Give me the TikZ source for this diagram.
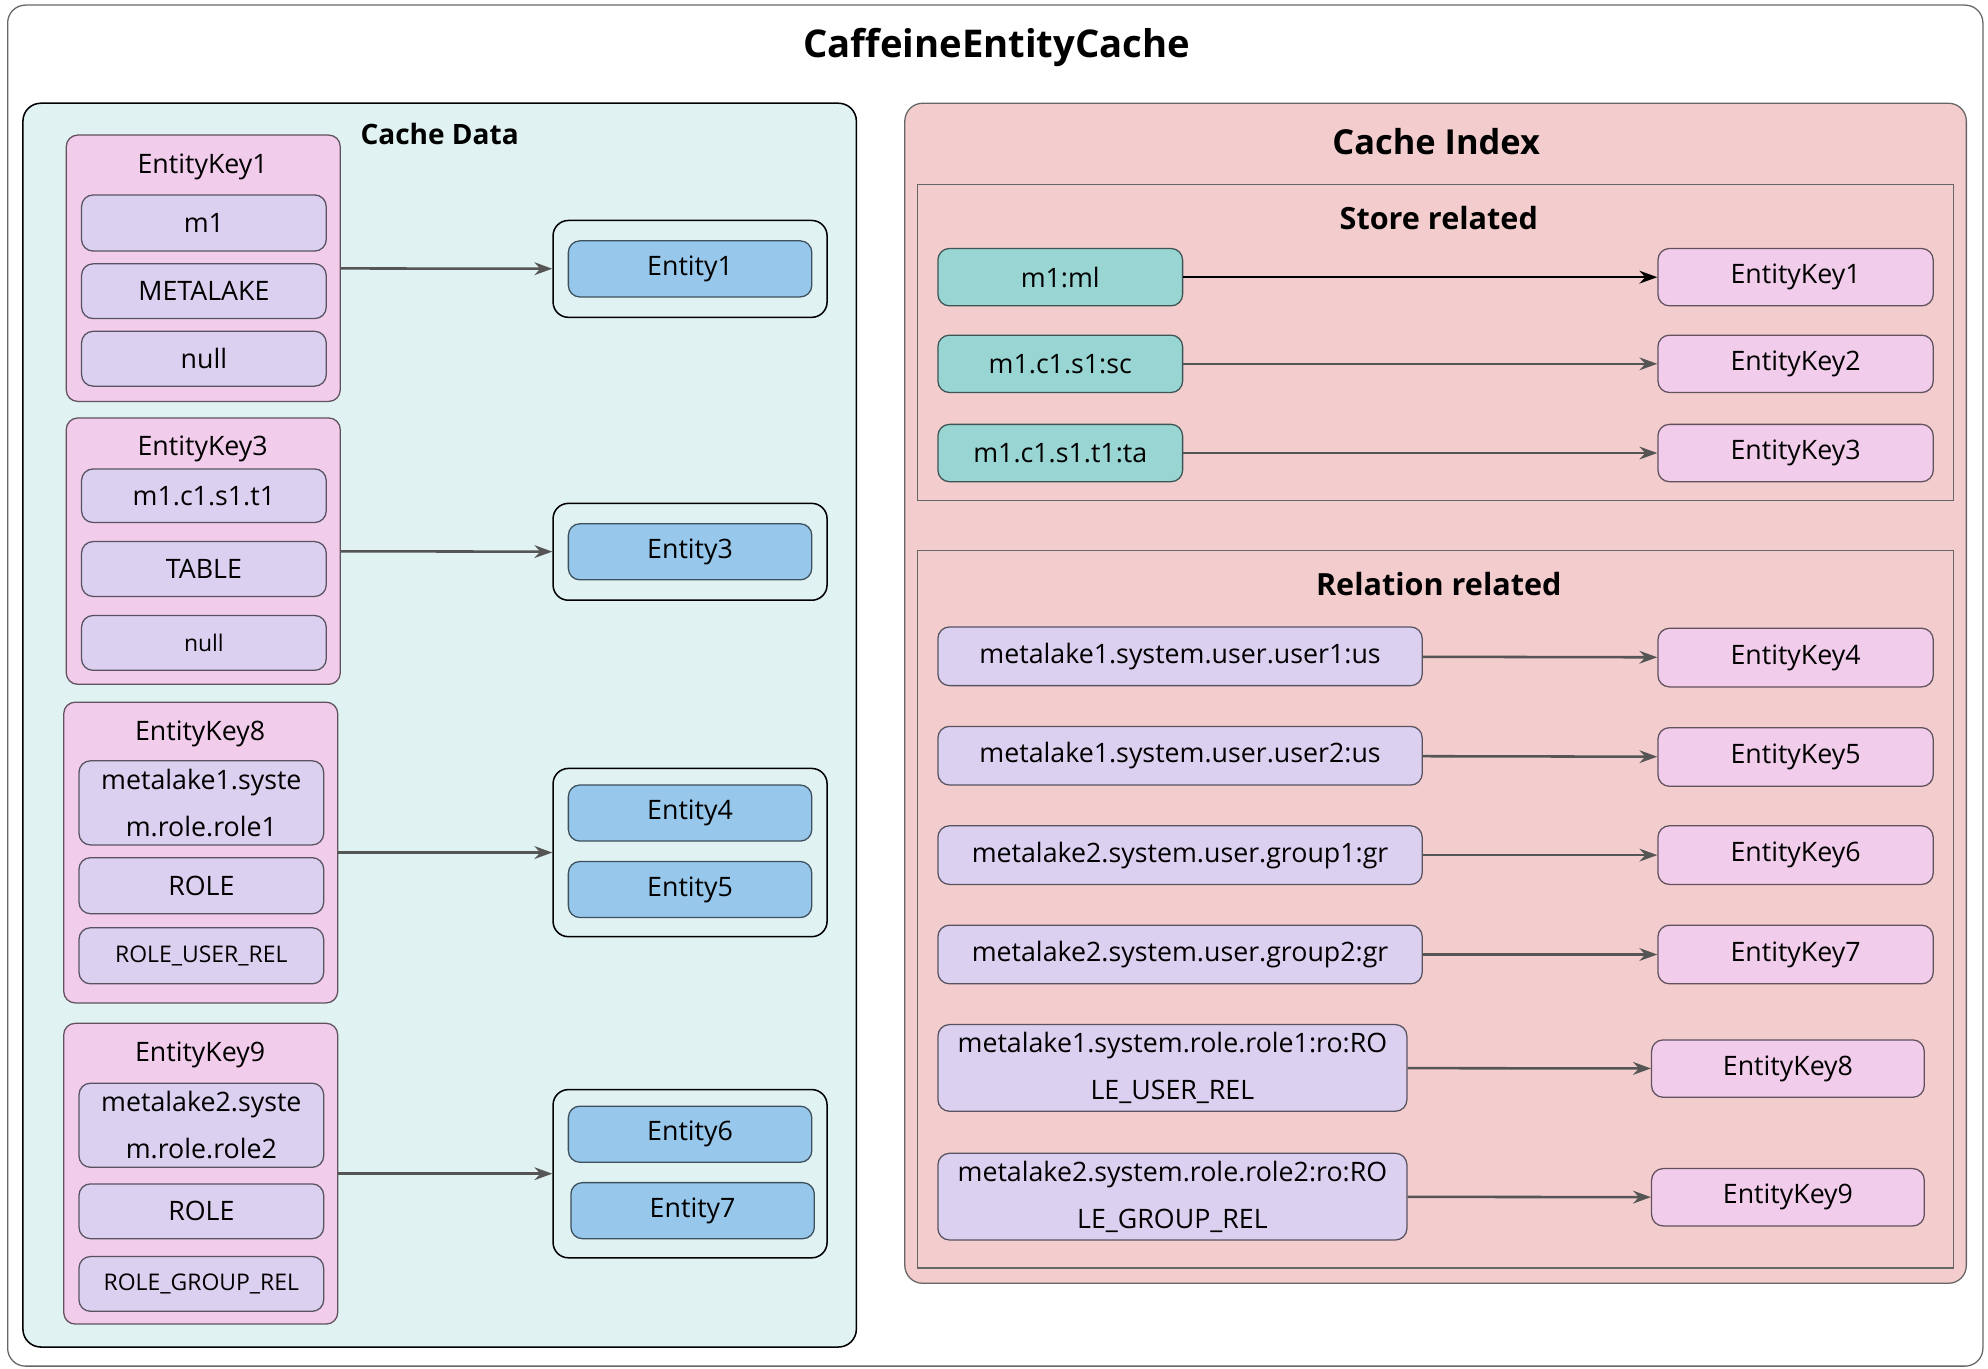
\documentclass[tikz,border=0pt]{standalone}
\usepackage{fontspec}
\setmainfont{Open Sans}
\usepackage{xcolor}
\usetikzlibrary{arrows.meta}

\definecolor{keypink}{HTML}{F2CCEB}
\definecolor{fieldlav}{HTML}{DCD0F0}
\definecolor{entblue}{HTML}{97C7EA}
\definecolor{idxteal}{HTML}{98D5D3}
\definecolor{databg}{HTML}{E1F2F2}
\definecolor{indexbg}{HTML}{F3CDCD}
\definecolor{linegray}{HTML}{555555}

\tikzset{
  rbox/.style={draw=#1!40!black, rounded corners=9pt, inner sep=0pt, line width=1pt},
  key/.style={rbox=keypink, fill=keypink},
  field/.style={rbox=fieldlav, fill=fieldlav},
  ent/.style={rbox=entblue, fill=entblue},
  idx/.style={rbox=idxteal, fill=idxteal},
  holder/.style={draw=black, rounded corners=12pt, inner sep=0pt, line width=1.2pt},
  link/.style={-{Stealth[length=14pt,width=10pt]}, draw=linegray, line width=2pt},
  txt/.style={font=\fontsize{21}{25}\selectfont},
  small/.style={font=\fontsize{18}{22}\selectfont},
  twoline/.style={font=\fontsize{21}{37}\selectfont, align=center},
  head/.style={font=\fontsize{22}{26}\selectfont\bfseries}
}

% box from corner (x1,y1) to corner (x2,y2)
\newcommand\rb[7]{\node[#6, minimum width={(#4)-(#2)}, minimum height={(#5)-(#3)}]
  (#1) at ({((#2)+(#4))/2},{((#3)+(#5))/2}) {#7};}

\begin{document}
\begin{tikzpicture}[x=1pt,y=-1pt]
\useasboundingbox (0,0) rectangle (1560,1074);

    % frames
    \draw[rounded corners=14pt, draw=black!60, line width=1pt] (6,4) rectangle (1556,1072);
    \node[font=\fontsize{30}{34}\selectfont\bfseries] (title) at (782,37) {CaffeineEntityCache};
    \draw[rounded corners=14pt, fill=databg, line width=1.2pt] (18,81) rectangle (672,1057);
    \node[head] (datahead) at (345,105) {Cache Data};
    \draw[rounded corners=14pt, fill=indexbg, draw=black!60, line width=1pt] (710,81) rectangle (1543,1007);
    \node[font=\fontsize{27}{30}\selectfont\bfseries] (indexhead) at (1127,111) {Cache Index};
    \draw[draw=black!60, line width=1pt] (720,145) rectangle (1533,393);
    \node[head, font=\fontsize{24}{28}\selectfont\bfseries] (storehead) at (1129,171) {Store related};
    \draw[draw=black!60, line width=1pt] (720,432) rectangle (1533,995);
    \node[head, font=\fontsize{24}{28}\selectfont\bfseries] (relhead) at (1129,458) {Relation related};

    % cache data keys
    \rb{ek1}{52}{106}{267}{315}{key}{}
    \node[txt] at (159,131) {EntityKey1};
    \rb{f11}{64}{153}{256}{197}{field,txt}{m1}
    \rb{f12}{64}{207}{256}{250}{field,txt}{METALAKE}
    \rb{f13}{64}{260}{256}{303}{field,txt}{null}

    \rb{ek3}{52}{328}{267}{537}{key}{}
    \node[txt] at (159,352) {EntityKey3};
    \rb{f31}{64}{368}{256}{410}{field,txt}{m1.c1.s1.t1}
    \rb{f32}{64}{425}{256}{468}{field,txt}{TABLE}
    \rb{f33}{64}{483}{256}{526}{field,small}{null}

    \rb{ek8}{50}{551}{265}{787}{key}{}
    \node[txt] at (157,576) {EntityKey8};
    \rb{f81}{62}{597}{254}{663}{field,twoline}{metalake1.syste\\m.role.role1}
    \rb{f82}{62}{673}{254}{717}{field,txt}{ROLE}
    \rb{f83}{62}{728}{254}{772}{field,small}{ROLE\_USER\_REL}

    \rb{ek9}{50}{803}{265}{1039}{key}{}
    \node[txt] at (157,828) {EntityKey9};
    \rb{f91}{62}{850}{254}{916}{field,twoline}{metalake2.syste\\m.role.role2}
    \rb{f92}{62}{929}{254}{972}{field,txt}{ROLE}
    \rb{f93}{62}{986}{254}{1029}{field,small}{ROLE\_GROUP\_REL}

    % entities
    \rb{c1}{434}{173}{649}{249}{holder}{}
    \rb{e1}{446}{189}{637}{233}{ent,txt}{Entity1}
    \rb{c3}{434}{395}{649}{471}{holder}{}
    \rb{e3}{446}{411}{637}{455}{ent,txt}{Entity3}
    \rb{c8}{434}{603}{649}{735}{holder}{}
    \rb{e4}{446}{616}{637}{660}{ent,txt}{Entity4}
    \rb{e5}{446}{676}{637}{720}{ent,txt}{Entity5}
    \rb{c9}{434}{855}{649}{987}{holder}{}
    \rb{e6}{446}{868}{637}{912}{ent,txt}{Entity6}
    \rb{e7}{448}{928}{639}{972}{ent,txt}{Entity7}

    \draw[link] (ek1) -- (c1);
    \draw[link] (ek3) -- (c3);
    \draw[link] (ek8) -- (c8);
    \draw[link] (ek9) -- (c9);

    % store index
    \rb{s1}{736}{195}{928}{240}{idx,txt}{m1:ml}
    \rb{s2}{736}{263}{928}{308}{idx,txt}{m1.c1.s1:sc}
    \rb{s3}{736}{333}{928}{378}{idx,txt}{m1.c1.s1.t1:ta}
    \rb{k1}{1301}{195}{1517}{240}{key,txt}{EntityKey1}
    \rb{k2}{1301}{263}{1517}{308}{key,txt}{EntityKey2}
    \rb{k3}{1301}{333}{1517}{378}{key,txt}{EntityKey3}
    \draw[link, draw=black] (s1) -- (k1);
    \draw[link] (s2) -- (k2);
    \draw[link] (s3) -- (k3);

    % relation index
    \rb{r4}{736}{492}{1116}{538}{field,txt}{metalake1.system.user.user1:us}
    \rb{r5}{736}{570}{1116}{616}{field,txt}{metalake1.system.user.user2:us}
    \rb{r6}{736}{648}{1116}{694}{field,txt}{metalake2.system.user.group1:gr}
    \rb{r7}{736}{726}{1116}{772}{field,txt}{metalake2.system.user.group2:gr}
    \rb{r8}{736}{804}{1104}{872}{field,twoline}{metalake1.system.role.role1:ro:RO\\LE\_USER\_REL}
    \rb{r9}{736}{905}{1104}{973}{field,twoline}{metalake2.system.role.role2:ro:RO\\LE\_GROUP\_REL}
    \rb{k4}{1301}{493}{1517}{539}{key,txt}{EntityKey4}
    \rb{k5}{1301}{571}{1517}{617}{key,txt}{EntityKey5}
    \rb{k6}{1301}{648}{1517}{694}{key,txt}{EntityKey6}
    \rb{k7}{1301}{726}{1517}{772}{key,txt}{EntityKey7}
    \rb{k8}{1296}{816}{1510}{861}{key,txt}{EntityKey8}
    \rb{k9}{1296}{917}{1510}{962}{key,txt}{EntityKey9}
    \foreach \i in {4,...,9}
      \draw[link] (r\i) -- (k\i);
\end{tikzpicture}
\end{document}
